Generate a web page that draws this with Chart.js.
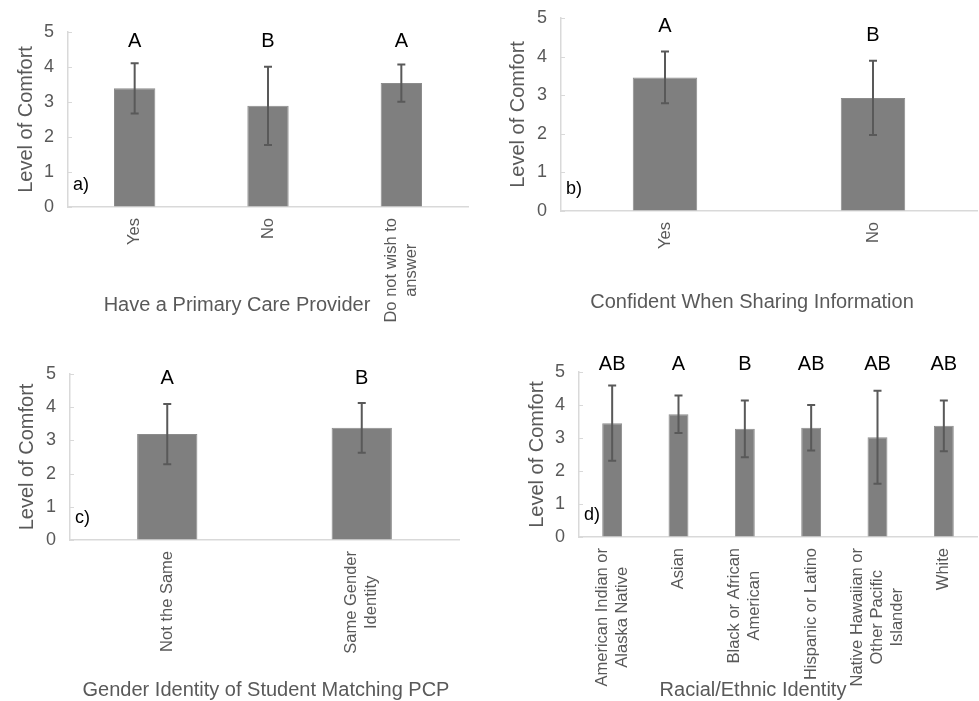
<!DOCTYPE html>
<html>
<head>
<meta charset="utf-8">
<script src="https://cdn.jsdelivr.net/npm/chart.js@4.4.1/dist/chart.umd.min.js"></script>
<style>
  body { margin: 0; background: #fff; width: 979px; height: 701px; overflow: hidden; position: relative; }
  .panel { position: absolute; }
</style>
</head>
<body>
<div class="panel" style="left:0;top:0;width:478px;height:330px"><canvas id="chartA"></canvas></div>
<div class="panel" style="left:490px;top:0;width:489px;height:330px"><canvas id="chartB"></canvas></div>
<div class="panel" style="left:0;top:340px;width:478px;height:361px"><canvas id="chartC"></canvas></div>
<div class="panel" style="left:490px;top:340px;width:489px;height:361px"><canvas id="chartD"></canvas></div>
<script>
// -----------------------
// Data
// -----------------------
const yTicks = [0, 1, 2, 3, 4, 5];

// a) primary care provider
const careLabels = [['Yes'], ['No'], ['Do not wish to', 'answer']];
const careMeans = [3.39, 2.89, 3.54];
const careErrors = [0.72, 1.12, 0.53];
const careLetters = ['A', 'B', 'A'];

// b) confident when sharing
const confLabels = [['Yes'], ['No']];
const confMeans = [3.46, 2.93];
const confErrors = [0.67, 0.96];
const confLetters = ['A', 'B'];

// c) gender identity match
const genderLabels = [['Not the Same'], ['Same Gender', 'Identity']];
const genderMeans = [3.19, 3.38];
const genderErrors = [0.91, 0.75];
const genderLetters = ['A', 'B'];

// d) racial / ethnic identity
const raceLabels = [
  ['American Indian or', 'Alaska Native'],
  ['Asian'],
  ['Black or African', 'American'],
  ['Hispanic or Latino'],
  ['Native Hawaiian or', 'Other Pacific', 'Islander'],
  ['White']
];
const raceMeans = [3.45, 3.72, 3.28, 3.31, 3.02, 3.37];
const raceErrors = [1.14, 0.57, 0.86, 0.69, 1.41, 0.77];
const raceLetters = ['AB', 'A', 'B', 'AB', 'AB', 'AB'];

// -----------------------
// Styling
// -----------------------
const FONT = '"Liberation Sans", Arial, sans-serif';
const GREY_TEXT = '#595959';
const AXIS_LINE = '#d9d9d9';
Chart.defaults.font.family = FONT;

// -----------------------
// Extras: inner ticks, error bars, letters, rotated labels, captions
// -----------------------
const extrasPlugin = {
  id: 'extras',
  beforeDatasetsDraw(chart) {
    // small tick marks on the inside of the value axis
    const { ctx, chartArea, scales: { y } } = chart;
    ctx.save();
    ctx.strokeStyle = AXIS_LINE;
    ctx.lineWidth = 1;
    y.ticks.forEach(t => {
      const py = Math.round(y.getPixelForValue(t.value)) + 0.5;
      ctx.beginPath();
      ctx.moveTo(chartArea.left, py);
      ctx.lineTo(chartArea.left + 4, py);
      ctx.stroke();
    });
    ctx.restore();
  },
  afterDatasetsDraw(chart, args, opts) {
    const { ctx, chartArea, scales: { x, y } } = chart;
    const meta = chart.getDatasetMeta(0);
    const means = chart.data.datasets[0].data;

    ctx.save();

    // error bars
    ctx.strokeStyle = '#595959';
    ctx.lineWidth = 2;
    meta.data.forEach((bar, i) => {
      const err = opts.errors[i];
      const top = y.getPixelForValue(means[i] + err);
      const bot = y.getPixelForValue(means[i] - err);
      ctx.beginPath();
      ctx.moveTo(bar.x, top); ctx.lineTo(bar.x, bot);
      ctx.moveTo(bar.x - 4, top); ctx.lineTo(bar.x + 4, top);
      ctx.moveTo(bar.x - 4, bot); ctx.lineTo(bar.x + 4, bot);
      ctx.stroke();
    });

    // significance letters
    ctx.fillStyle = '#000';
    ctx.font = '20px ' + FONT;
    ctx.textAlign = 'center';
    ctx.textBaseline = 'middle';
    meta.data.forEach((bar, i) => {
      const ly = opts.letterGap != null
        ? y.getPixelForValue(means[i] + opts.errors[i]) - opts.letterGap
        : y.getPixelForValue(opts.letterValue);
      ctx.fillText(opts.letters[i], bar.x, ly);
    });

    // panel tag
    ctx.font = '18px ' + FONT;
    ctx.textAlign = 'left';
    ctx.fillText(opts.tag, chartArea.left + 5, chartArea.bottom - 22);

    // rotated category labels, lines centred like the original
    ctx.font = '16.5px ' + FONT;
    ctx.fillStyle = GREY_TEXT;
    ctx.textAlign = 'center';
    chart.data.labels.forEach((lines, i) => {
      const px = x.getPixelForValue(i);
      const widest = Math.max(...lines.map(l => ctx.measureText(l).width));
      ctx.save();
      ctx.translate(px, chartArea.bottom + 11);
      ctx.rotate(-Math.PI / 2);
      lines.forEach((line, j) => {
        ctx.fillText(line, -widest / 2, (j - (lines.length - 1) / 2) * 20);
      });
      ctx.restore();
    });

    // x axis caption
    ctx.font = '20px ' + FONT;
    ctx.fillText(opts.caption, opts.captionX, opts.captionY);

    ctx.restore();
  }
};

// -----------------------
// Chart builder
// -----------------------
function buildChart(id, labels, means, errors, letters, cfg) {
  const ctx = document.getElementById(id).getContext('2d');
  return new Chart(ctx, {
    type: 'bar',
    data: {
      labels: labels,
      datasets: [{
        data: means,
        backgroundColor: '#7f7f7f',
        borderColor: '#8c8c8c',
        borderWidth: 1,
        categoryPercentage: 1,
        barPercentage: cfg.barPct
      }]
    },
    options: {
      responsive: true,
      maintainAspectRatio: false,
      animation: false,
      layout: { padding: cfg.padding },
      plugins: {
        legend: { display: false },
        tooltip: { enabled: false },
        extras: {
          errors: errors,
          letters: letters,
          letterValue: cfg.letterValue,
          letterGap: cfg.letterGap,
          tag: cfg.tag,
          caption: cfg.caption,
          captionX: cfg.captionX,
          captionY: cfg.captionY
        }
      },
      scales: {
        x: {
          ticks: { display: false },
          grid: { display: false },
          border: { display: true, color: AXIS_LINE, width: 1.5 },
          afterFit: s => { s.height = cfg.xHeight; }
        },
        y: {
          min: yTicks[0],
          max: yTicks[yTicks.length - 1],
          afterBuildTicks: s => { s.ticks = yTicks.map(v => ({ value: v })); },
          ticks: { color: GREY_TEXT, font: { size: 18 }, padding: 0 },
          // invisible tick length gives the label gap without padding the top
          grid: { drawOnChartArea: false, drawTicks: true, tickLength: 14, tickColor: 'rgba(0,0,0,0)' },
          border: { display: true, color: AXIS_LINE, width: 1.5 },
          title: {
            display: true,
            text: 'Level of Comfort',
            color: GREY_TEXT,
            font: { size: 20 },
            padding: { top: 0, bottom: 0 }
          },
          afterFit: s => { s.width = cfg.yWidth; }
        }
      }
    },
    plugins: [extrasPlugin]
  });
}

// -----------------------
// Initialize
// -----------------------
buildChart('chartA', careLabels, careMeans, careErrors, careLetters, {
  padding: { left: 14, top: 32, right: 10, bottom: 0 },
  yWidth: 54, xHeight: 123, barPct: 0.31,
  letterValue: 4.74, tag: 'a)',
  caption: 'Have a Primary Care Provider', captionX: 237, captionY: 305
});

buildChart('chartB', confLabels, confMeans, confErrors, confLetters, {
  padding: { left: 16, top: 18, right: 2, bottom: 0 },
  yWidth: 55, xHeight: 119, barPct: 0.31,
  letterGap: 25, tag: 'b)',
  caption: 'Confident When Sharing Information', captionX: 262, captionY: 302
});

buildChart('chartC', genderLabels, genderMeans, genderErrors, genderLetters, {
  padding: { left: 15, top: 34, right: 19, bottom: 0 },
  yWidth: 55, xHeight: 161, barPct: 0.31,
  letterValue: 4.86, tag: 'c)',
  caption: 'Gender Identity of Student Matching PCP', captionX: 266, captionY: 350
});

buildChart('chartD', raceLabels, raceMeans, raceErrors, raceLetters, {
  padding: { left: 35, top: 32, right: 2, bottom: 0 },
  yWidth: 54, xHeight: 164, barPct: 0.30,
  letterValue: 5.22, tag: 'd)',
  caption: 'Racial/Ethnic Identity', captionX: 263, captionY: 350
});
</script>
</body>
</html>
